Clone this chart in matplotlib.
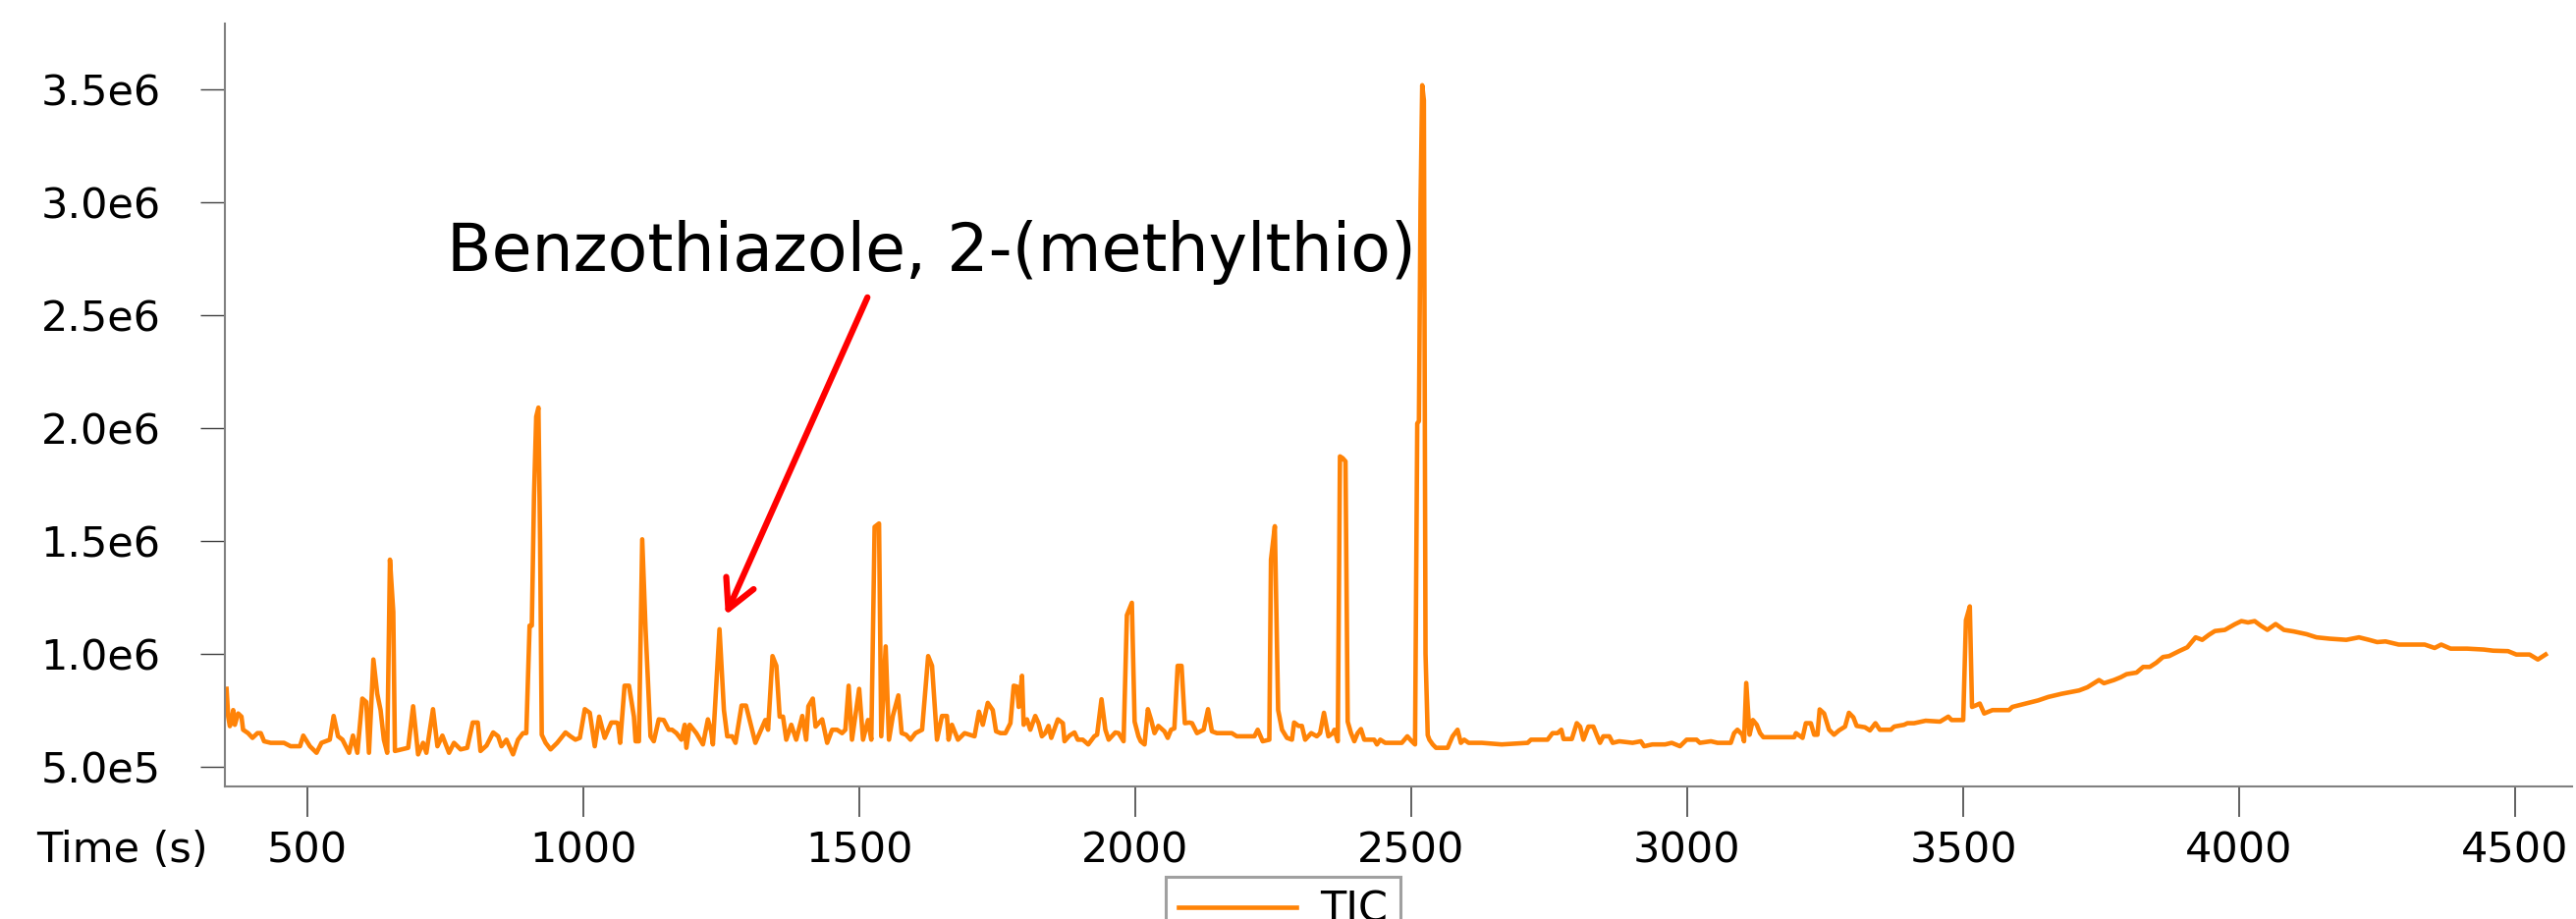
import matplotlib
matplotlib.use('Agg')
import matplotlib.pyplot as plt
from matplotlib.ticker import FuncFormatter
import numpy as np

# retention time (s) and TIC intensity (x1000 counts)
time_s = [
    354, 357, 360, 363, 366, 369, 375, 381, 384, 393, 401, 410, 416, 422, 434, 446, 458, 470,
    487, 493, 505, 517, 526, 541, 548, 556, 564, 576, 583, 591, 600, 607, 612, 620, 627, 633,
    639, 645, 650, 656, 659, 671, 683, 692, 701, 710, 716, 728, 736, 745, 757, 766, 778, 790,
    800, 809, 814, 825, 837, 846, 852, 861, 873, 882, 891, 897, 903, 907, 911, 915, 919, 922,
    925, 932, 941, 953, 968, 977, 986, 994, 1003, 1012, 1021, 1029, 1039, 1051, 1060,
    1063, 1067, 1075, 1083, 1092, 1095, 1101, 1107, 1113, 1122, 1128, 1137, 1146, 1155, 1161,
    1169, 1178, 1184, 1187, 1193, 1205, 1217, 1226, 1232, 1235, 1247, 1255, 1261, 1270, 1276,
    1287, 1295, 1303, 1312, 1321, 1330, 1335, 1343, 1350, 1356, 1362, 1368, 1377, 1386, 1397,
    1404, 1408, 1416, 1421, 1433, 1442, 1451, 1460, 1469, 1475, 1481, 1487, 1500, 1507, 1516,
    1522, 1528, 1536, 1540, 1548, 1554, 1561, 1571, 1577, 1585, 1593, 1602, 1614, 1625, 1632,
    1641, 1650, 1659, 1662, 1668, 1679, 1691, 1700, 1709, 1717, 1724, 1733, 1742, 1748, 1756,
    1765, 1774,
    1780, 1786, 1789, 1795, 1798, 1804, 1810, 1819, 1825, 1831, 1837, 1843, 1848, 1860, 1869,
    1872, 1881, 1890, 1896, 1905, 1915, 1926, 1931, 1939, 1946, 1952, 1964, 1970, 1979, 1985,
    1994, 1999, 2006, 2010, 2017, 2023, 2029, 2035, 2042, 2053, 2059, 2065, 2071, 2077, 2084,
    2090, 2098, 2103, 2112, 2124, 2132, 2139, 2148, 2175, 2184, 2201, 2216, 2222, 2231, 2243,
    2246, 2253, 2259, 2266, 2275, 2284, 2288, 2296, 2302, 2308, 2319, 2329, 2335, 2342, 2350,
    2358, 2361, 2367, 2371, 2376, 2381, 2385, 2391, 2397, 2403, 2409, 2415, 2433, 2438, 2444,
    2453, 2483,
    2493, 2501, 2507, 2511, 2514, 2517, 2520, 2523, 2526, 2530, 2533, 2539, 2545, 2566, 2575,
    2584, 2590, 2596, 2604, 2628, 2664, 2711, 2717, 2729, 2747, 2756, 2765, 2772, 2776, 2791,
    2800, 2806, 2812, 2821, 2830, 2842, 2848, 2859, 2865, 2877, 2901, 2916, 2922, 2937, 2960,
    2972, 2987, 2999, 3017, 3023, 3043, 3055, 3079, 3085, 3091, 3100, 3103, 3107, 3113, 3119,
    3126, 3132, 3138, 3194,
    3197, 3209, 3215, 3224, 3230, 3236, 3240, 3248, 3257, 3266, 3275, 3286, 3293, 3301, 3307,
    3322, 3331, 3341, 3349, 3369, 3375, 3393, 3399, 3411, 3432, 3458, 3473, 3479, 3500, 3505,
    3512, 3516, 3524, 3530, 3538, 3553, 3583, 3589, 3613, 3636, 3654, 3678, 3710, 3725, 3746,
    3755, 3773, 3785, 3796, 3814, 3826, 3838, 3850, 3862, 3873, 3891, 3906,
    3915, 3921, 3933, 3945, 3956, 3974, 3992, 4004, 4016, 4028, 4039, 4051, 4066, 4081, 4099,
    4114, 4122, 4140, 4164, 4194, 4217, 4235, 4250, 4265, 4289, 4318, 4336, 4354, 4366, 4383,
    4413, 4443, 4460, 4487, 4502, 4526, 4541, 4555,
]
tic_k = [
    845, 722, 680, 707, 751, 686, 736, 722, 664, 649, 628, 649, 649, 613, 606, 606, 606, 591,
    591, 638, 591, 562, 606, 620, 725, 635, 620, 562, 638, 562, 802, 787, 562, 975, 823, 751,
    620, 562, 1417, 1186, 570, 577, 584, 768, 555, 606, 562, 755, 591, 638, 562, 606, 577, 584,
    696, 696, 570, 594, 652, 635, 591, 620, 555, 620, 649, 649, 1125, 1125, 1700, 2050, 2090, 1500,
    642, 606, 577, 606, 652, 635, 620, 628, 755, 739, 591, 722, 628, 696, 696,
    693, 606, 859, 859, 722, 613, 613, 1507, 1113, 635, 613, 710, 707, 664, 664,
    649, 620, 686, 584, 686, 649, 599, 710, 657, 599, 1109, 751, 635, 635, 606,
    771, 771, 693, 606, 657, 707, 664, 990, 947, 722, 722, 620, 686, 620, 725,
    620, 768, 802, 678, 710, 606, 664, 664, 649, 664, 859, 620, 845, 620, 707,
    620, 1562, 1577, 635, 1033, 620, 725, 816, 649, 642, 620, 649, 664, 990, 947,
    620, 725, 725, 620, 686, 620, 649, 642, 635, 744, 686, 783, 751, 657, 649,
    649, 693,
    859, 855, 765, 903, 686, 710, 664, 725, 693, 635, 649, 681, 628, 710, 693,
    613, 638, 652, 620, 620, 599, 635, 642, 799, 664, 620, 652, 649, 613, 1171,
    1226, 700, 635, 613, 599, 755, 707, 649, 681, 657, 628, 664, 670, 947, 947,
    693, 696, 693, 649, 664, 755, 657, 649, 649, 635, 635, 635, 664, 613, 620,
    1417, 1565, 751, 664, 628, 620, 696, 681, 681, 620, 649, 635, 649, 739, 635,
    649, 664, 613, 1874, 1866, 1852, 700, 649, 613, 649, 667, 620, 620, 599, 620,
    606, 606,
    635, 613, 599, 2020, 2030, 3000, 3517, 3450, 1000, 640, 620, 599, 584, 584, 635,
    664, 606, 620, 606, 606, 599, 606, 620, 620, 620, 649, 649, 664, 623, 623,
    693, 678, 620, 678, 678, 606, 635, 635, 606, 613, 606, 613, 591, 599, 599,
    606, 591, 620, 620, 606, 613, 606, 606, 649, 664, 642, 613, 871, 642, 707,
    686, 649, 631, 631,
    649, 628, 693, 693, 642, 642, 754, 736, 664, 642, 661, 678, 739, 719, 681,
    675, 661, 693, 664, 664, 678, 686, 693, 693, 704, 700, 722, 707, 707, 1149,
    1210, 765, 773, 780, 736, 751, 751, 765, 780, 794, 809, 823, 838, 852, 884,
    870, 884, 896, 910, 917, 942, 942, 961, 986, 990, 1012, 1029,
    1055, 1073, 1062, 1084, 1101, 1106, 1131, 1145, 1139, 1145, 1125, 1106, 1132, 1106, 1099,
    1091, 1087, 1073, 1067, 1062, 1073, 1062, 1052, 1055, 1041, 1041, 1041, 1026, 1041, 1023,
    1023, 1019, 1014, 1012, 997, 997, 975, 997,
]
x_ticks = [500, 1000, 1500, 2000, 2500, 3000, 3500, 4000, 4500]
y_ticks = [5e5, 1e6, 1.5e6, 2e6, 2.5e6, 3e6, 3.5e6]
label_text = 'Benzothiazole, 2-(methylthio)'
arrow_tip = (1258, 1.171e6)
arrow_tail = (1515, 2.578e6)

tic = np.array(tic_k) * 1e3

W, H = 2623, 936
fig = plt.figure(figsize=(W / 100, H / 100), dpi=100)
ax = fig.add_axes([229 / W, 1 - 801 / H, (2619 - 229) / W, (801 - 24) / H])

ax.plot(time_s, tic, color='#ff8307', lw=3.3, label='TIC')

ax.set_xlim(351, 4603)
ax.set_ylim(4.13e5, 3.79e6)
ax.set_xticks(x_ticks)
ax.set_yticks(y_ticks)


def sci_label(v, pos):
    e = int(np.floor(np.log10(v)))
    return f'{v / 10 ** e:.1f}e{e}'


ax.yaxis.set_major_formatter(FuncFormatter(sci_label))

for s in ['top', 'right']:
    ax.spines[s].set_visible(False)
for s in ['left', 'bottom']:
    ax.spines[s].set_color('#808080')
    ax.spines[s].set_linewidth(1.5)

ax.tick_params(axis='x', direction='out', length=22, width=1.4, color='#606060',
               labelsize=31, pad=10)
ax.tick_params(axis='y', direction='out', length=18, width=1.0, color='#404040',
               labelsize=31, pad=29)

fig.text(37 / W, 1 - 866 / H, 'Time (s)', fontsize=31, ha='left', va='center')

ax.text(753, 2.696e6, label_text, fontsize=48, ha='left', va='baseline')
ax.annotate('', xy=arrow_tip, xytext=arrow_tail,
            arrowprops=dict(arrowstyle='->,head_length=1.05,head_width=0.55',
                            color='red', lw=4.5, mutation_scale=20,
                            shrinkA=0, shrinkB=0))

leg = ax.legend(loc='upper left', bbox_to_anchor=(1187 / W, 1 - 893 / H),
                bbox_transform=fig.transFigure, fontsize=31, handlelength=2.8,
                handletextpad=0.55, borderpad=0.3, borderaxespad=0,
                fancybox=False, edgecolor='#a0a0a0', framealpha=1)
leg.get_frame().set_linewidth(2.2)

fig.savefig('out.png', dpi=100)
